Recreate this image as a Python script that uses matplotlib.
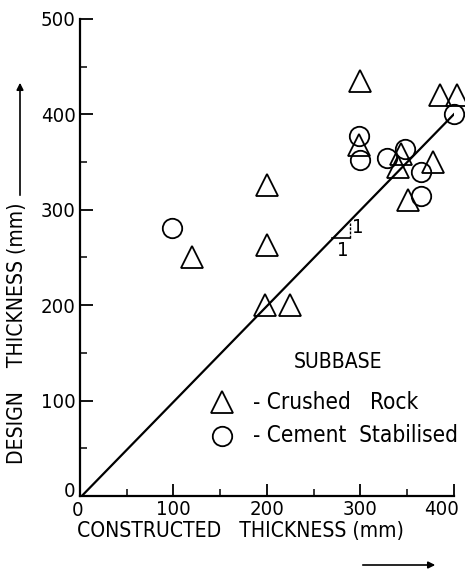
import matplotlib
matplotlib.use("Agg")
import matplotlib.pyplot as plt
import matplotlib.patches as mpatches
import matplotlib.transforms as mtrans
from matplotlib import font_manager as fm
from matplotlib.ticker import MultipleLocator

# pick a narrow font if one is installed
narrow = None
for f in fm.fontManager.ttflist:
    nm = f.name
    if 'Narrow' in nm or 'Condensed' in nm:
        narrow = (nm, 'normal')
        break
    if f.stretch in ('condensed', 'semi-condensed') and nm in ('DejaVu Sans', 'Roboto', 'Open Sans', 'Noto Sans'):
        narrow = (nm, f.stretch)
        break
if narrow:
    plt.rcParams['font.family'] = [narrow[0], 'DejaVu Sans']
    plt.rcParams['font.stretch'] = narrow[1]
    scale = 1.12
else:
    plt.rcParams['font.family'] = ['DejaVu Sans']
    scale = 1.0

# Crushed rock (triangles)
rock_x = [300, 385, 403, 298, 200, 200, 120, 198, 225, 340, 343, 378, 351]
rock_y = [435, 420, 420, 368, 326, 263, 250, 200, 200, 345, 358, 350, 310]
# Cement stabilised (circles)
cem_x = [298, 300, 329, 348, 365, 365, 400, 98]
cem_y = [377, 352, 354, 364, 340, 314, 400, 281]
# line of equality
line_x = [2, 400]
line_y = [0, 400]
# ticks
x_ticks = [0, 100, 200, 300, 400]
x_ticklabels = ['0', '100', '200', '300', '400']
y_ticks = [0, 100, 200, 300, 400, 500]
y_ticklabels = ['0', '100', '200', '300', '400', '500']

fig = plt.figure(figsize=(4.65, 5.72), dpi=100)
ax = fig.add_axes([0.172, 0.133, 0.804, 0.834])
ax.set_xlim(0, 400)
ax.set_ylim(0, 500)
for s in ['top', 'right']:
    ax.spines[s].set_visible(False)
for s in ['left', 'bottom']:
    ax.spines[s].set_linewidth(1.6)

ax.set_xticks(x_ticks, labels=x_ticklabels)
ax.set_yticks(y_ticks, labels=y_ticklabels)
ax.xaxis.set_minor_locator(MultipleLocator(50))
ax.yaxis.set_minor_locator(MultipleLocator(50))
ax.tick_params(which='major', direction='in', length=9, width=1.3,
               labelsize=13 * scale, pad=3)
ax.tick_params(which='minor', direction='in', length=5, width=1.1)

xt = ax.xaxis.get_major_ticks()
xt[-1].label1.set_horizontalalignment('right')
xt[-1].label1.set_transform(xt[-1].label1.get_transform() +
                            mtrans.ScaledTranslation(5 / 100, 0, fig.dpi_scale_trans))
xt[0].label1.set_transform(xt[0].label1.get_transform() +
                           mtrans.ScaledTranslation(-2 / 100, -1 / 100, fig.dpi_scale_trans))
yt = ax.yaxis.get_major_ticks()
yt[0].label1.set_transform(yt[0].label1.get_transform() +
                           mtrans.ScaledTranslation(0, 6 / 100, fig.dpi_scale_trans))

ax.plot(line_x, line_y, color='black', lw=1.6, zorder=2)
ax.plot(rock_x, rock_y, ls='none', marker='^', ms=16, mfc='none',
        mec='black', mew=1.3, clip_on=False, zorder=3)
ax.plot(cem_x, cem_y, ls='none', marker='o', ms=14, mfc='none',
        mec='black', mew=1.3, clip_on=False, zorder=3)

# slope indicator
ax.plot([270, 289], [270, 270], color='black', lw=1.2)
ax.plot([289, 289], [270, 286], color='black', lw=1.0, ls=(0, (2, 1)))
ax.text(291, 281, '1', fontsize=13 * scale, ha='left', va='center')
ax.text(281, 257, '1', fontsize=13 * scale, ha='center', va='center')

# legend drawn as text
ax.text(276, 140, 'SUBBASE', fontsize=13.5 * scale, ha='center', va='center')
ax.plot([152], [98], ls='none', marker='^', ms=16, mfc='none',
        mec='black', mew=1.3)
ax.text(185, 98, '- Crushed   Rock', fontsize=14.5 * scale, ha='left', va='center')
ax.plot([152], [63], ls='none', marker='o', ms=14, mfc='none',
        mec='black', mew=1.3)
ax.text(185, 63, '- Cement  Stabilised', fontsize=14.5 * scale, ha='left', va='center')

# axis labels
fig.text(240 / 465, 1 - 531 / 572, 'CONSTRUCTED   THICKNESS (mm)',
         fontsize=13.5 * scale, ha='center', va='center')
fig.text(17 / 465, 1 - 333 / 572, 'DESIGN    THICKNESS (mm)',
         fontsize=13.5 * scale, ha='center', va='center', rotation=90)
# arrows
fig.patches.append(mpatches.FancyArrowPatch(
    (360 / 465, 1 - 565 / 572), (438 / 465, 1 - 565 / 572),
    transform=fig.transFigure, arrowstyle='-|>', mutation_scale=10,
    color='black', lw=1.2))
fig.patches.append(mpatches.FancyArrowPatch(
    (20 / 465, 1 - 198 / 572), (20 / 465, 1 - 80 / 572),
    transform=fig.transFigure, arrowstyle='-|>', mutation_scale=10,
    color='black', lw=1.2))

fig.savefig('out.png', dpi=100)
